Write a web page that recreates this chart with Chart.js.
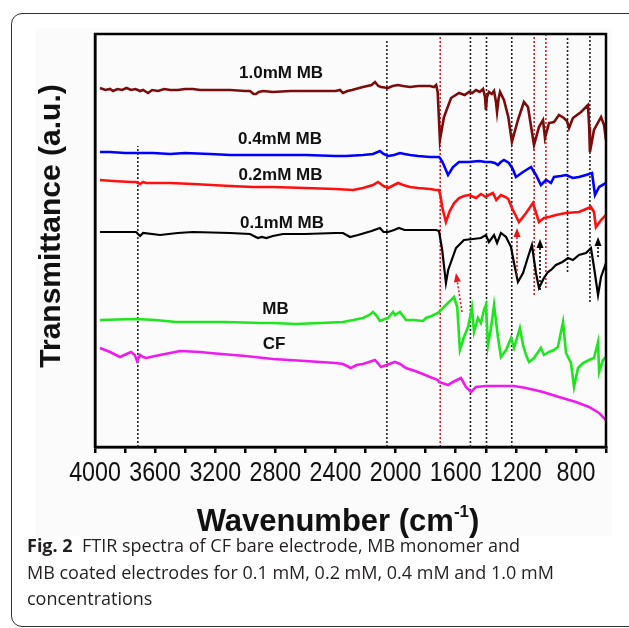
<!DOCTYPE html>
<html>
<head>
<meta charset="utf-8">
<title>FTIR spectra</title>
<script src="https://cdn.jsdelivr.net/npm/chart.js@4.4.1/dist/chart.umd.min.js"></script>
<style>
  html, body { margin: 0; padding: 0; background: #fff; }
  body { width: 629px; height: 628px; position: relative; overflow: hidden; }
  .frame {
    position: absolute; left: 11px; top: 13px; width: 700px; height: 612px;
    border: 1.5px solid #333; border-radius: 11px;
  }
  .fig-bg { position: absolute; left: 35px; top: 28px; width: 577px; height: 508px; background: #fbfbfb; }
  #ftir { position: absolute; left: 0; top: 0; }
  .caption {
    position: absolute; left: 27px; top: 532px; width: 600px;
    font-family: "Open Sans", "Noto Sans", sans-serif; font-size: 18px;
    line-height: 26.5px; color: #231f20; white-space: nowrap;
  }
  .caption b { font-weight: 700; }
</style>
</head>
<body>
<div class="frame"></div>
<div class="fig-bg"></div>
<canvas id="ftir" width="629" height="628"></canvas>
<div class="caption"><b>Fig. 2</b>&nbsp; FTIR spectra of CF bare electrode, MB monomer and<br>MB coated electrodes for 0.1 mM, 0.2 mM, 0.4 mM and 1.0 mM<br>concentrations</div>
<script>
"use strict";

/* ── Spectra (wavenumber, transmittance a.u.) ───────────── */
const WN_10 = [3967,3930,3900,3880,3850,3820,3790,3760,3730,3700,3680,3647,3620,3580,3540,3500,3450,3400,3348,3300,3200,3100,3000,2969,2945,2929,2910,2882,2816,2700,2600,2500,2400,2370,2350,2320,2290,2217,2160,2137,2115,2097,2050,2020,1984,1950,1904,1850,1771,1745,1730,1720,1705,1678,1631,1578,1540,1512,1490,1465,1440,1418,1405,1399,1392,1379,1360,1345,1332,1325,1315,1305,1279,1250,1226,1186,1146,1119,1079,1046,1019,1006,979,946,913,880,860,846,820,766,720,712,707,680,633,613,600];
const T_10  = [359,357,358,356,358,357,359,357,358,356,357,354,357,356,358,357,357,358,358,357,357,357,356,356,353,353,355,356,355,356,356,356,356,357,354,356,357,360,362,365,361,360,359,361,362,361,360,361,361,360,362,355,307,330,349,354,352,355,354,357,355,358,350,337,350,355,353,356,345,335,348,355,347,330,305,327,345,340,302,320,327,309,324,325,332,329,326,319,329,335,342,320,295,317,330,322,307];

const WN_04 = [3967,3900,3800,3720,3614,3500,3400,3235,3100,2929,2816,2600,2400,2330,2217,2150,2104,2080,2050,2010,1971,1940,1904,1850,1771,1731,1711,1700,1685,1651,1618,1578,1512,1445,1400,1365,1340,1319,1300,1279,1246,1220,1199,1152,1099,1066,1033,999,966,946,900,866,820,780,733,693,673,646,600];
const T_04  = [295,295,294,294,294,293,294,293,292,292,292,292,291,291,292,293,296,293,291,292,294,293,292,291,290,290,290,288,284,272,280,285,285,286,285,285,284,282,285,287,284,278,270,275,280,272,262,267,264,270,271,272,269,270,272,274,252,260,264];

const WN_02 = [3967,3880,3760,3727,3700,3680,3660,3500,3348,3100,2949,2816,2600,2400,2283,2217,2150,2117,2080,2050,2010,1984,1950,1904,1850,1771,1731,1711,1700,1690,1665,1640,1610,1578,1545,1512,1480,1465,1432,1400,1380,1352,1330,1299,1270,1250,1226,1179,1132,1086,1046,1013,979,933,866,780,700,680,667,633,600];
const T_02  = [267,266,265,265,263,265,264,264,263,261,260,260,259,258,257,259,262,265,261,259,262,264,262,260,259,258,257,257,250,240,225,236,244,249,251,252,250,249,253,250,252,254,247,252,250,248,239,225,234,244,225,229,230,232,234,235,240,235,220,227,232];

const WN_01 = [3967,3800,3727,3700,3680,3567,3450,3348,3100,2969,2916,2890,2860,2816,2749,2600,2400,2350,2303,2250,2160,2104,2080,2050,2010,1978,1940,1850,1731,1711,1690,1665,1650,1598,1545,1485,1432,1399,1379,1345,1325,1299,1265,1232,1212,1186,1152,1119,1093,1066,1046,1013,986,966,933,890,853,820,780,733,700,680,653,633,600];
const T_01  = [215,215,215,211,214,212,214,215,214,213,209,210,209,211,213,213,214,214,210,212,216,219,215,215,217,219,217,217,217,216,197,164,177,199,207,208,209,212,205,212,204,214,210,200,184,165,174,190,202,174,159,169,175,177,182,185,189,187,192,194,199,180,152,170,184];

const WN_MB = [3967,3727,3600,3461,3300,3128,2900,2816,2663,2500,2350,2280,2217,2175,2150,2125,2104,2070,2050,2017,2004,1971,1931,1880,1818,1798,1760,1718,1698,1665,1631,1611,1590,1572,1545,1518,1492,1478,1452,1432,1412,1399,1385,1365,1345,1319,1299,1265,1232,1212,1173,1152,1132,1112,1079,1033,1013,979,946,920,886,866,833,813,786,753,713,680,653,646,620,600];
const T_MB  = [127,128,127,125,125,125,124,124,123,124,125,127,129,132,135,131,126,128,129,135,132,135,127,127,126,129,131,134,137,142,147,150,140,97,110,120,139,115,129,124,137,142,102,119,142,110,90,97,109,99,119,102,92,85,89,99,92,95,97,100,125,94,84,60,79,84,87,89,105,75,87,90];

const WN_CF = [3967,3900,3834,3790,3760,3735,3720,3700,3680,3660,3600,3567,3500,3434,3300,3235,3000,2816,2600,2400,2350,2297,2260,2217,2137,2097,2060,2004,1970,1931,1870,1818,1771,1718,1711,1651,1618,1565,1532,1498,1465,1399,1286,1213,1132,1019,913,800,713,646,600];
const T_CF  = [99,95,90,93,95,92,86,92,90,89,91,92,94,96,95,94,91,88,86,84,83,79,82,83,87,80,82,85,83,79,76,73,70,67,65,62,65,69,60,55,60,61,61,61,59,55,50,45,40,34,27];

const SERIES_NAMES  = ['1.0mM MB', '0.4mM MB', '0.2mM MB', '0.1mM MB', 'MB', 'CF'];
const SERIES_COLORS = ['#7a0c0c', '#0000ff', '#ff1010', '#000000', '#1ee61e', '#ee1aee'];

/* ── Series labels (placed in data space) ───────────────── */
const LABEL_WN = [2762, 2769, 2766, 2756, 2799, 2809];
const LABEL_T  = [374, 308, 272, 224, 138, 103];

/* ── Marker lines: dotted verticals ─────────────────────── */
const MARK_WN     = [3715, 2058, 1703, 1502, 1395, 1227, 1078, 1000, 856, 707];
const MARK_TOP    = [301, 407, 413, 411, 411, 411, 413, 413, 411, 411];
const MARK_BOTTOM = [0, 0, 0, 0, 0, 0, 152, 159, 175, 145];
const MARK_COLOR  = ['#222', '#222', '#e8151b', '#222', '#222', '#222', '#e8151b', '#e8151b', '#222', '#222'];

/* ── Annotation arrows ──────────────────────────────────── */
const ARROW_TIP_WN  = [1598, 1192, 1039, 653];
const ARROW_TAIL_WN = [1558, 1192, 1039, 653];
const ARROW_TIP_T   = [174, 219, 208, 210];
const ARROW_TAIL_T  = [135, 172, 157, 190];
const ARROW_COLOR   = ['#e8151b', '#e8151b', '#000', '#000'];

/* ── Axis ───────────────────────────────────────────────── */
const X_MIN = 600, X_MAX = 4000, X_STEP = 200, X_LABEL_EVERY = 400;
const Y_MIN = 0, Y_MAX = 413;

const FONT = '"Liberation Sans", Arial, sans-serif';

/** Zip two arrays into {x, y} points. */
function pts(xs, ys) { return xs.map((x, i) => ({ x, y: ys[i] })); }

const spectra = [
  [WN_10, T_10], [WN_04, T_04], [WN_02, T_02],
  [WN_01, T_01], [WN_MB, T_MB], [WN_CF, T_CF],
].map(([xs, ys], i) => ({
  label: SERIES_NAMES[i],
  data: pts(xs, ys),
  borderColor: SERIES_COLORS[i],
  borderWidth: i === 3 ? 2.2 : 2.6,
  pointRadius: 0,
  tension: 0,
  order: 1,
}));

const markers = MARK_WN.map((wn, i) => ({
  label: 'mark' + i,
  data: [{ x: wn, y: MARK_BOTTOM[i] }, { x: wn, y: MARK_TOP[i] }],
  borderColor: MARK_COLOR[i],
  borderWidth: 1.6,
  borderDash: [2, 2],
  pointRadius: 0,
  order: 2,
}));

/* ── Plugin: plot frame, texts, arrows ──────────────────── */
const decor = {
  id: 'decor',
  afterDatasetsDraw(chart) {
    const { ctx, chartArea: a, scales: { x, y } } = chart;
    ctx.save();

    // arrows
    ARROW_TIP_WN.forEach((wn, i) => {
      const x1 = x.getPixelForValue(ARROW_TAIL_WN[i]), y1 = y.getPixelForValue(ARROW_TAIL_T[i]);
      const x2 = x.getPixelForValue(wn), y2 = y.getPixelForValue(ARROW_TIP_T[i]);
      const ang = Math.atan2(y2 - y1, x2 - x1);
      ctx.strokeStyle = ctx.fillStyle = ARROW_COLOR[i];
      ctx.lineWidth = 1.6;
      ctx.setLineDash([2, 2]);
      ctx.beginPath();
      ctx.moveTo(x1, y1);
      ctx.lineTo(x2 - 8 * Math.cos(ang), y2 - 8 * Math.sin(ang));
      ctx.stroke();
      ctx.setLineDash([]);
      ctx.beginPath();
      ctx.moveTo(x2, y2);
      ctx.lineTo(x2 - 9 * Math.cos(ang) + 3.5 * Math.sin(ang), y2 - 9 * Math.sin(ang) - 3.5 * Math.cos(ang));
      ctx.lineTo(x2 - 9 * Math.cos(ang) - 3.5 * Math.sin(ang), y2 - 9 * Math.sin(ang) + 3.5 * Math.cos(ang));
      ctx.closePath();
      ctx.fill();
    });

    // series labels
    ctx.fillStyle = '#111';
    ctx.font = 'bold 17px ' + FONT;
    ctx.textAlign = 'center';
    ctx.textBaseline = 'middle';
    SERIES_NAMES.forEach((name, i) => {
      ctx.fillText(name, x.getPixelForValue(LABEL_WN[i]), y.getPixelForValue(LABEL_T[i]));
    });

    // plot frame
    ctx.strokeStyle = '#000';
    ctx.lineWidth = 2.5;
    ctx.strokeRect(a.left, a.top, a.right - a.left, a.bottom - a.top);

    // x tick labels: tall, slightly condensed digits
    ctx.font = '28px ' + FONT;
    ctx.textBaseline = 'alphabetic';
    x.ticks.forEach((t, i) => {
      if (t.value % X_LABEL_EVERY !== 0 || t.value <= X_MIN) return;
      ctx.save();
      ctx.translate(x.getPixelForTick(i), 481);
      ctx.scale(0.83, 1);
      ctx.fillText(String(t.value), 0, 0);
      ctx.restore();
    });

    // y title
    ctx.save();
    ctx.translate(a.left - 35, 226);
    ctx.rotate(-Math.PI / 2);
    ctx.font = 'bold 30px ' + FONT;
    ctx.fillText('Transmittance (a.u.)', 0, 0);
    ctx.restore();

    // x title with superscript
    const big = 'bold 31px ' + FONT;
    const sup = 'bold 17px ' + FONT;
    const p1 = 'Wavenumber (cm', p2 = '-1', p3 = ')';
    ctx.font = big; const w1 = ctx.measureText(p1).width, w3 = ctx.measureText(p3).width;
    ctx.font = sup; const w2 = ctx.measureText(p2).width;
    let tx = 338 - (w1 + w2 + w3) / 2;
    const ty = 531;
    ctx.textAlign = 'left';
    ctx.font = big; ctx.fillText(p1, tx, ty); tx += w1;
    ctx.font = sup; ctx.fillText(p2, tx, ty - 14); tx += w2;
    ctx.font = big; ctx.fillText(p3, tx, ty);

    ctx.restore();
  },
};

/* ── Chart ──────────────────────────────────────────────── */
Chart.defaults.font.family = FONT;
Chart.defaults.color = '#111';

new Chart(document.getElementById('ftir'), {
  type: 'line',
  data: { datasets: [...spectra, ...markers] },
  options: {
    responsive: false,
    animation: false,
    events: [],
    layout: { padding: { left: 95, top: 34, right: 23, bottom: 121 } },
    plugins: { legend: { display: false }, tooltip: { enabled: false } },
    scales: {
      x: {
        type: 'linear',
        reverse: true,
        min: X_MIN, max: X_MAX,
        afterFit: s => { s.height = 60; },
        border: { color: '#000', width: 2.5 },
        grid: { drawOnChartArea: false, drawTicks: true, tickLength: 6, color: '#000', lineWidth: 2.5 },
        ticks: {
          stepSize: X_STEP,
          autoSkip: false,
          maxRotation: 0,
          callback: () => '',
        },
      },
      y: {
        min: Y_MIN, max: Y_MAX,
        afterFit: s => { s.width = 0; },
        border: { color: '#000', width: 2.5 },
        grid: { display: false, drawTicks: false },
        ticks: { display: false },
      },
    },
  },
  plugins: [decor],
});
</script>
</body>
</html>
